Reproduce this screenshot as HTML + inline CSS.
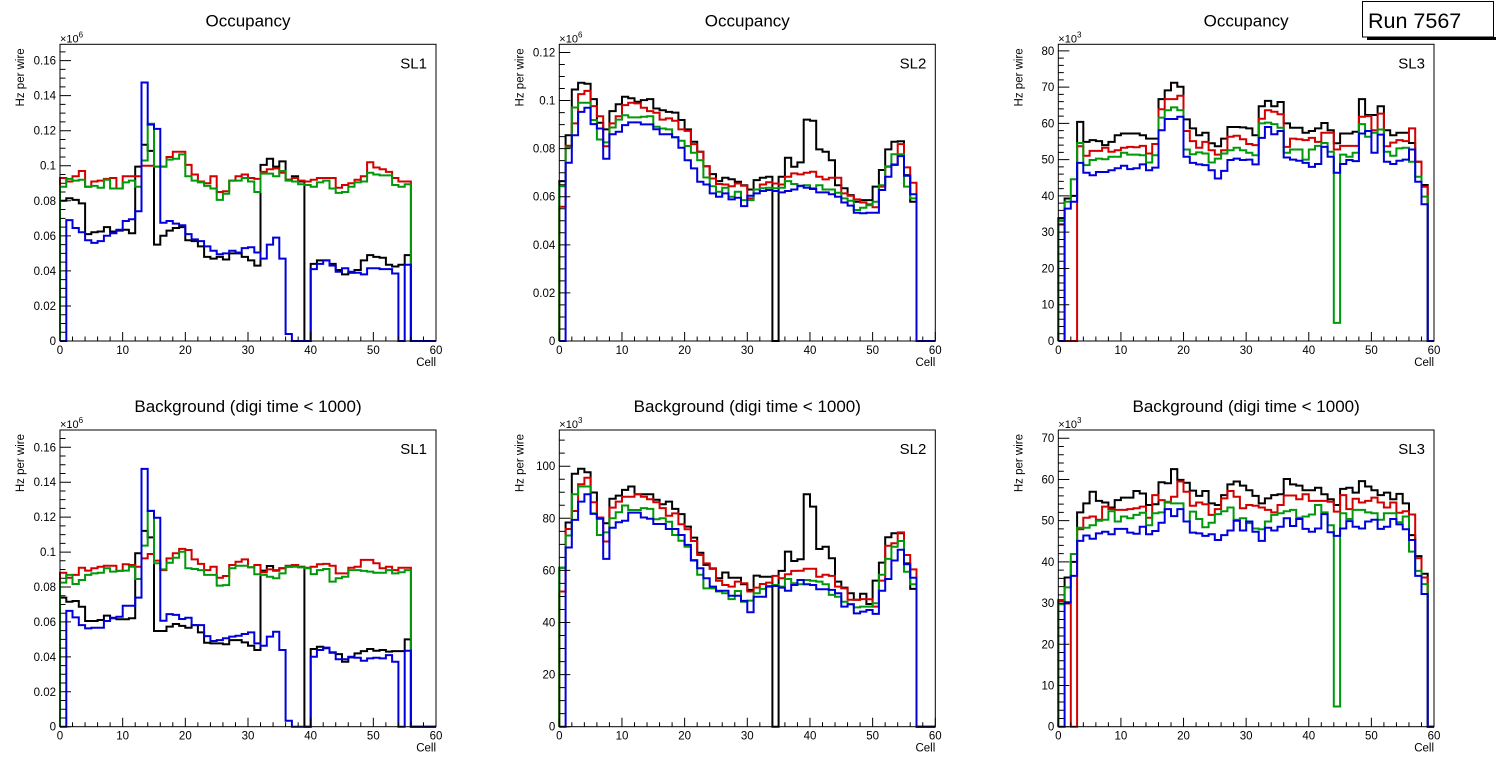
<!DOCTYPE html>
<html><head><meta charset="utf-8"><style>
html,body{margin:0;padding:0;background:#fff;}
svg{display:block;font-family:"Liberation Sans",sans-serif;}
</style></head><body>
<svg id="c" width="1496" height="772" viewBox="0 0 1496 772"></svg>
<script>
// ---------- DATA (k Hz per wire) ----------
const cells = Array.from({length:60},(_,i)=>i);
// Panel 1: Occupancy SL1
const p1Black=[80,81.5,80.5,78.5,61,62,62.5,65,62.5,63,63.5,61.5,99.5,112,108.5,55,60,63,64.5,65,57.5,57,54,48,47,48,46.5,50,50,48,46,43,100.5,104,99.5,102.5,92,94,91,0,44,46,46,44,40.5,38,39,40.5,46,49,48,47.5,43.5,42.5,43.5,49,0,0,0,0];
const p1Red=[93,91,94,97,88,91,91.5,92.5,93,87,94,94,94,100,100,99.5,99.5,105,108,108,100.5,95,91,90,94,85,85.5,91.5,94,95,93,92.5,96.5,98,98.5,96,92,93,91.5,91,92,93,93,93,87.5,89,90,92,94,102,99,98,96.5,93,91,91,0,0,0,0];
const p1Green=[88,92.5,91.5,92,88,88.5,87.5,92,87,87,90.5,91.5,88,103,124,99.5,99.5,103.5,104,106.5,94,91.5,90.5,88.5,87,80.5,84,91.5,91.5,93,91,85,95.5,95.5,94,97,91.5,91,89.5,89,88,90.5,91.5,87,84.5,85,88,90.5,91,96,95,94.5,94.5,89,88,89.5,0,0,0,0];
const p1Blue=[0,69,64.5,62,57.5,56,57,60,61.5,63.5,68.5,69.5,74,147.5,123.5,121,67.5,68.5,67,66,61,58,57,54,51.5,49.5,50,51.5,50.5,53,53.5,50.5,47,55,59,47,4,0,0,0,41,44,46,43,39.5,41.5,39.5,39,38,41.5,41.5,41,41,38.5,0,43.5,0,0,0,0];
// Panel 2: Occupancy SL2
const p2Black=[66.5,85.6,104.6,107.4,107,100.6,90.8,88,95.6,98.5,101.6,101,99.5,100.2,100.6,96.7,96,95.3,95,91.9,88,82.9,78.7,72.7,69.4,66.5,67.9,67.3,66.2,64.8,63,66.9,67.9,68.3,0,68.3,76.2,72.5,74.3,92.1,91.6,79.7,78.7,75.2,64.8,63.5,60.7,57.9,58.6,58.6,64.2,71.1,79.7,82.9,83.1,69,57.9,0,0,0];
const p2Red=[55.8,81.2,90.5,102.7,104,97.7,93.5,81,90.5,93.5,98.1,99.1,98.8,97,95.6,94.9,92.1,92.6,91.6,88,87.4,81.9,78.7,72.7,67.6,65.3,65.1,64.4,65.5,64.6,59.3,63,65.1,66,65.5,65.1,68.3,69.7,69.3,70,70.4,68.3,67.2,67.9,67.9,61.4,60.4,58.9,57.6,56.9,55.6,64.2,72.5,73.2,81.9,72.2,65.8,0,0,0];
const p2Green=[64.4,80.5,97.1,99.1,99.1,91.9,83.8,82.6,88.8,92.1,93.9,93,93,93.3,93.5,89.1,88.4,88,84.7,83.3,81.1,78.3,75.2,68,64.4,62.1,63.7,60,62.1,58.6,58.6,63,63.5,63.7,63.5,63.7,66.5,65.3,64.4,64.8,63.5,64.8,63,63,61.7,59.3,58.3,54.5,55.4,56.5,57.9,64.8,72.7,77.7,77.7,64.2,59.3,0,0,0];
const p2Blue=[0,74.1,85.6,95.3,97,90.2,88.4,75.8,86,87,89.8,90.9,90.9,90.1,90.1,88.1,86,86,84.7,80.4,75.2,71.8,66.2,65.1,61.4,60,61.4,58.9,59.6,56.1,60.4,61.4,62.4,62.8,62.4,61.8,62.4,63,64.6,63.7,63.2,61.8,61.8,61,60,57.6,56.3,53.3,53.1,53.3,53.3,62.8,68.3,73.4,76.9,68.7,61,0,0,0];
// Panel 3: Occupancy SL3
const p3Black=[33.8,39.3,40,60.4,54.9,55.4,55.1,54,54.9,56.7,57.2,57.2,57.2,56.7,55.8,55.8,66.7,69.1,71.2,70.1,61.1,58.6,56.7,57.4,54.5,53.7,55.8,59,59,58.9,58.6,56.7,64.7,66.2,64.7,65.9,60,58.8,58.8,57.4,57.9,58.6,60.1,58.1,54.5,57.2,57.2,57.7,66.7,62.3,62.3,64.7,58.1,56.7,57.4,57.4,54.6,49.4,43,0];
const p3Red=[32.2,0,0,53.7,51.1,52.4,52.4,53.3,52.2,52.6,53.3,53.5,53.4,53.8,51.7,54.3,63.9,66.7,66.7,67.6,57.9,55.1,53.3,54.9,52.6,51.4,52.6,56.3,56.6,55.6,54.3,54,61.3,63.6,63.2,62.5,53.5,55.8,55.6,55.4,56,54.9,57.4,57.4,52.8,53.8,53.8,53.8,61.8,62,58.1,62.7,53.7,54.7,55.4,55.1,58.6,49.4,42.5,0];
const p3Green=[33.1,38.4,44.6,54.6,48.5,49.9,50.3,50.1,50.8,50.8,51.9,51.4,51.4,51.2,49.2,51.2,61.6,63.6,64.4,63.6,52.8,51.5,52,51.7,49.2,50.3,51.7,52.6,53.3,52.6,51.9,51.2,60,60.2,59.8,58.8,51.9,52.8,52.8,50,52.8,53.8,54.6,52.2,5,51.4,50.8,51.9,59.8,56.3,57.4,58.3,52.2,51.1,53.1,53.3,49.4,45.3,39.8,0];
const p3Blue=[0,36.5,38.4,49.1,46.4,45.7,46.6,46.6,47.1,47.6,48.3,47.4,47.6,48.7,47.1,47.8,58.1,61.2,61.2,61.8,50.8,49.1,48.7,48.5,47.1,44.8,46.9,49.9,50.3,49.9,50,48.7,56,59,57,57.9,50.6,50,49.7,49.1,48,48.8,53.5,50.8,46.4,48.8,49.9,49.6,57.2,57.9,51.9,56.9,49.4,48.8,49.7,50,52.8,43.9,37.7,0];
// Panel 4: Background SL1
const p4Black=[73.9,71.6,72,68.7,60.5,60.5,61.1,63.6,62.1,61.5,61.5,62.1,99.3,112.1,108.4,54.8,54.8,57.3,58.8,57.7,56.7,58.2,54,48.1,47.7,47.7,47.2,49.6,49.6,48.3,46.4,43.9,89.4,92,89.4,90.7,91.6,92.6,91.6,0,44.5,45.8,44.9,42.4,41.6,37.2,39.7,42,43.3,44.5,43.5,43.9,43,43.3,43.3,50,0,0,0,0];
const p4Red=[88.2,85.3,86.9,91,89.4,90.7,91.6,92.2,92.2,89.2,93,92.6,91.6,96.4,98.9,95.1,89.7,96.4,99.3,101.8,101.2,95.8,93.2,89.7,91.6,85.3,86.3,92.6,94.5,95.8,91.3,92.6,88.4,90.1,89.7,90.7,92.2,92.6,91.3,91,91.6,93,93.2,92.2,87.8,87.8,91,91.6,95.5,95.5,93.6,90.7,91.6,89.7,91,91,0,0,0,0];
const p4Green=[82.5,86.9,81.7,84,86.9,87.8,88.2,90.7,88.8,89.2,89.4,91.6,84.6,103.7,123.7,93.6,90.1,93.9,96.8,100.2,90.7,90.3,89.7,86.9,86.9,80.8,81.1,90.7,92.2,92.2,91.3,87.3,86.9,85.9,85,87.8,91.6,91.6,91.3,90.7,87.4,89.7,90.3,83.1,85,85.9,89.7,89.7,89.2,88.8,88.2,88.2,89.7,87.8,88.4,89.7,0,0,0,0];
const p4Blue=[0,66.3,62.6,58.2,56.3,56.7,56.7,60.5,62.4,63,69.3,69.3,73.9,147.6,123.5,119.7,60.7,64.5,64,61.7,62.4,58.2,58.2,51.9,49.1,49.6,50.6,51.6,52.1,53.1,54,47.7,46.4,51.6,54.4,43.9,3.4,0,0,0,40.1,43.9,45.3,42.6,38.6,38.6,40.1,39.5,37.8,39.1,39.5,39.1,41,37.2,0,43.5,0,0,0,0];
// Panel 5: Background SL2
const p5Black=[61,78.4,97.1,99,97.7,89.9,80.3,78.1,87.5,88.7,90.9,92.2,89.2,89.2,89.2,87.1,85.4,86.4,83.6,81.6,76.8,72.6,66.8,62.1,60.6,57,59.2,57.2,57.2,54.7,52.5,58,57.6,57.6,0,59.8,67.2,63.6,64.3,89.2,84.5,68.2,69.1,64.7,55.7,53.4,51.2,48.7,51,47.1,56.1,63,72.7,74.3,74.3,62.7,52.9,0,0,0];
const p5Red=[51.9,75.9,82.8,93.1,95.6,86.2,80.3,71.1,84.1,86.4,88.3,88.3,89.2,88.3,87.3,86.2,83.9,81,81.9,77.7,75.8,71.3,65.9,62.7,60.8,56,54.4,53.8,55.7,55.1,51.9,53.4,54.8,55.3,57.9,57,58.5,59.8,59.9,60.6,60.6,57.6,58.3,57.9,53.8,53.1,48.7,48.7,49,48.9,46.1,56.1,69.5,70.4,74.6,65.9,60.4,0,0,0];
const p5Green=[61,73.4,89.2,92.2,92.2,81.9,73.6,74.6,80,82.3,84.9,83.2,83.2,83.9,83.6,79.6,80,78.7,73.6,71.4,69.1,64,58.3,53.1,53.1,51.9,51.2,49,52.1,48,48.4,51.2,52.9,54,54.4,53.8,56.7,55.1,54.7,56.3,56,55.7,54.7,50.6,49.9,48,47,45.8,46.1,46.1,47.4,58.3,64.4,69.1,71.3,59.5,54.7,0,0,0];
const p5Blue=[0,68.8,79.4,86.4,89.2,81.7,79.8,64.4,76.4,78.5,79.1,82.2,82.2,80.3,79.8,77.8,77.8,75.9,75.9,73.6,69.8,63.8,60.8,57,53.8,52.2,52.2,50.3,50.3,48.3,43.9,49.9,49.9,53.8,54,53.4,52.2,54.4,56.3,54.7,54.4,52.8,52.8,52.5,51.2,46.1,47,43.5,44.2,44.8,43.3,52.2,56.7,63.8,67.9,62.4,57.2,0,0,0];
// Panel 6: Background SL3
const p6Black=[30.7,36.2,40,52,54.2,57,54.8,54.4,53.2,55,55.6,55.6,57.2,56.6,53.8,54,59.3,59.1,62.5,59.9,59.2,57.3,56,57.2,54.2,53.8,56.2,58.8,59.5,58.5,57.4,56,54.2,55.4,56.2,56.4,60.1,58.8,58.5,57.4,57.4,58,56.4,55.2,53.8,57.7,58,56.8,59.6,58.3,57.4,56.2,56.8,55.2,56.5,54.2,46.5,41.4,37.1,0];
const p6Red=[30.5,29.9,0,47.9,50.7,51,50.2,53.4,52.8,52.6,52.6,52.8,53,53.4,50.7,56.2,55,54.4,55.8,59.5,57,53.6,54.4,54,51.4,52.8,55.4,57.2,55.8,53,53.8,53.6,53.2,52.6,52,53.8,56.1,56.1,55.2,56.4,54.8,54.8,54.8,54.6,52.2,56.2,52.8,55.3,54.4,54.8,55.6,54.4,53.2,54.4,51.9,52.3,51.5,40.9,36.2,0];
const p6Green=[29.7,33.8,41.9,48.3,48.3,48.9,50,50.2,52.3,49.8,51,50.6,51.4,51.9,48.9,51.8,52,54.6,54.2,54.2,49.8,52.2,50.4,48.4,49.5,51.6,52.3,53.2,50.2,50.6,49.4,48.1,47.9,49.8,51.4,51.8,52.3,52.6,50.7,51,51.5,53.8,52,48.9,4.9,51.8,50.4,52.6,52.6,52,51.8,50.2,51.8,51.8,49.6,51,42.5,37.8,34.6,0];
const p6Blue=[0,30.2,36.6,45.1,46.4,45.6,46.9,47.3,46.7,48,48,47.1,46.8,48.5,46.7,47.5,49.5,52.8,51.1,52.8,49.8,47.1,46.9,46.3,46.7,45.3,46.5,47.6,50,47.6,49.8,47.3,45.1,48.3,47.6,48.5,50.6,48.7,50.4,48,47.3,48.1,51.6,47.2,46.3,48.1,49.9,48.5,48.1,49.8,50.2,48,48.5,50.4,49.1,47.9,45.3,36.6,32.2,0];

// Tick labels
const p1Ticks=["0","0.02","0.04","0.06","0.08","0.1","0.12","0.14","0.16"];
const p2Ticks=["0","0.02","0.04","0.06","0.08","0.1","0.12"];
const p3Ticks=["0","10","20","30","40","50","60","70","80"];
const p5Ticks=["0","20","40","60","80","100"];
const p6Ticks=["0","10","20","30","40","50","60","70"];
const xTicks=["0","10","20","30","40","50","60"];

const panels=[
 {id:'occ-sl1',title:'Occupancy',sl:'SL1',L:60,R:436,T:44.3,B:341,ymax:169.3,major:20,minor:5,ticks:p1Ticks,exp:'6',s:[p1Black,p1Red,p1Green,p1Blue]},
 {id:'occ-sl2',title:'Occupancy',sl:'SL2',L:559.3,R:935.3,T:44.3,B:341,ymax:123.4,major:20,minor:5,ticks:p2Ticks,exp:'6',s:[p2Black,p2Red,p2Green,p2Blue]},
 {id:'occ-sl3',title:'Occupancy',sl:'SL3',L:1058.3,R:1434,T:44.3,B:341,ymax:81.8,major:10,minor:2,ticks:p3Ticks,exp:'3',s:[p3Black,p3Red,p3Green,p3Blue]},
 {id:'bkg-sl1',title:'Background (digi time < 1000)',sl:'SL1',L:60,R:436,T:430,B:726.7,ymax:169.9,major:20,minor:5,ticks:p1Ticks,exp:'6',s:[p4Black,p4Red,p4Green,p4Blue]},
 {id:'bkg-sl2',title:'Background (digi time < 1000)',sl:'SL2',L:559.3,R:935.3,T:430,B:726.7,ymax:113.9,major:20,minor:5,ticks:p5Ticks,exp:'3',s:[p5Black,p5Red,p5Green,p5Blue]},
 {id:'bkg-sl3',title:'Background (digi time < 1000)',sl:'SL3',L:1058.3,R:1434,T:430,B:726.7,ymax:72.0,major:10,minor:2,ticks:p6Ticks,exp:'3',s:[p6Black,p6Red,p6Green,p6Blue]},
];
const colors=['#000000','#d40000','#00990a','#0000dd'];
const sNames=['black','red','green','blue'];
const NS='http://www.w3.org/2000/svg';
const svg=document.getElementById('c');
function mk(tag,attrs,parent){const e=document.createElementNS(NS,tag);for(const k in attrs)e.setAttribute(k,attrs[k]);(parent||svg).appendChild(e);return e;}

panels.forEach(p=>{
  const g=mk('g',{});
  
  
  const xs=v=>p.L+(v/60)*(p.R-p.L);
  const ys=v=>p.B-(v/p.ymax)*(p.B-p.T);
  p.s.forEach((arr,si)=>{
    let d='M'+xs(0).toFixed(1)+','+ys(0).toFixed(1);
    arr.forEach((v,i)=>{d+=' V'+ys(v).toFixed(1)+' H'+xs(i+1).toFixed(1);});
    const path=mk('path',{d:d,fill:'none',stroke:colors[si],'stroke-width':2,'stroke-linejoin':'miter'},g);
    
    
  });
  const fr=mk('rect',{x:p.L,y:p.T,width:p.R-p.L,height:p.B-p.T,fill:'none',stroke:'#000','stroke-width':1},g);
  
  
  let td='';
  for(let v=0;v<=60;v+=2){const x=xs(v);const len=(v%10===0)?9:4.5;td+='M'+x+','+p.B+' v-'+len+' ';}
  for(let v=0;v<=p.ymax+0.001;v+=p.minor){const y=ys(v);const len=(Math.abs(v/p.major-Math.round(v/p.major))<1e-6)?11:5.5;td+='M'+p.L+','+y+' h'+len+' ';}
  const tk=mk('path',{d:td,stroke:'#000','stroke-width':1,fill:'none'},g);
  
  
  xTicks.forEach((t,i)=>{const e=mk('text',{x:xs(i*10),y:p.B+13,'font-size':11.5,'text-anchor':'middle'},g);e.textContent=t;
    });
  p.ticks.forEach((t,i)=>{const e=mk('text',{x:p.L-4,y:ys(i*p.major)+4,'font-size':11.5,'text-anchor':'end'},g);e.textContent=t;
    });
  const cl=mk('text',{x:p.R,y:p.B+25,'font-size':11.5,'text-anchor':'end'},g);cl.textContent='Cell';
  
  const yl=mk('text',{x:0,y:0,'font-size':11.5,'text-anchor':'end',transform:'translate('+(p.L-36)+','+(p.T+4)+') rotate(-90)'},g);yl.textContent='Hz per wire';
  
  const ex=mk('text',{x:p.L,y:p.T-2,'font-size':11},g);ex.innerHTML='×10<tspan dy="-5" font-size="8">'+p.exp+'</tspan>';
  
  const ti=mk('text',{x:(p.L+p.R)/2,y:p.T-18,'font-size':17,'text-anchor':'middle'},g);ti.textContent=p.title;
  
  const sl=mk('text',{x:p.R-9,y:p.T+24,'font-size':15,'text-anchor':'end'},g);sl.textContent=p.sl;
  
});
const rb=mk('g',{});


mk('rect',{x:1367,y:37,width:129,height:3,fill:'#000'},rb);
mk('rect',{x:1362.5,y:1.5,width:131,height:35.5,fill:'#fff',stroke:'#000','stroke-width':1},rb);
const rt=mk('text',{x:1368,y:28,'font-size':21.5},rb);rt.textContent='Run 7567';


</script>
</body></html>
